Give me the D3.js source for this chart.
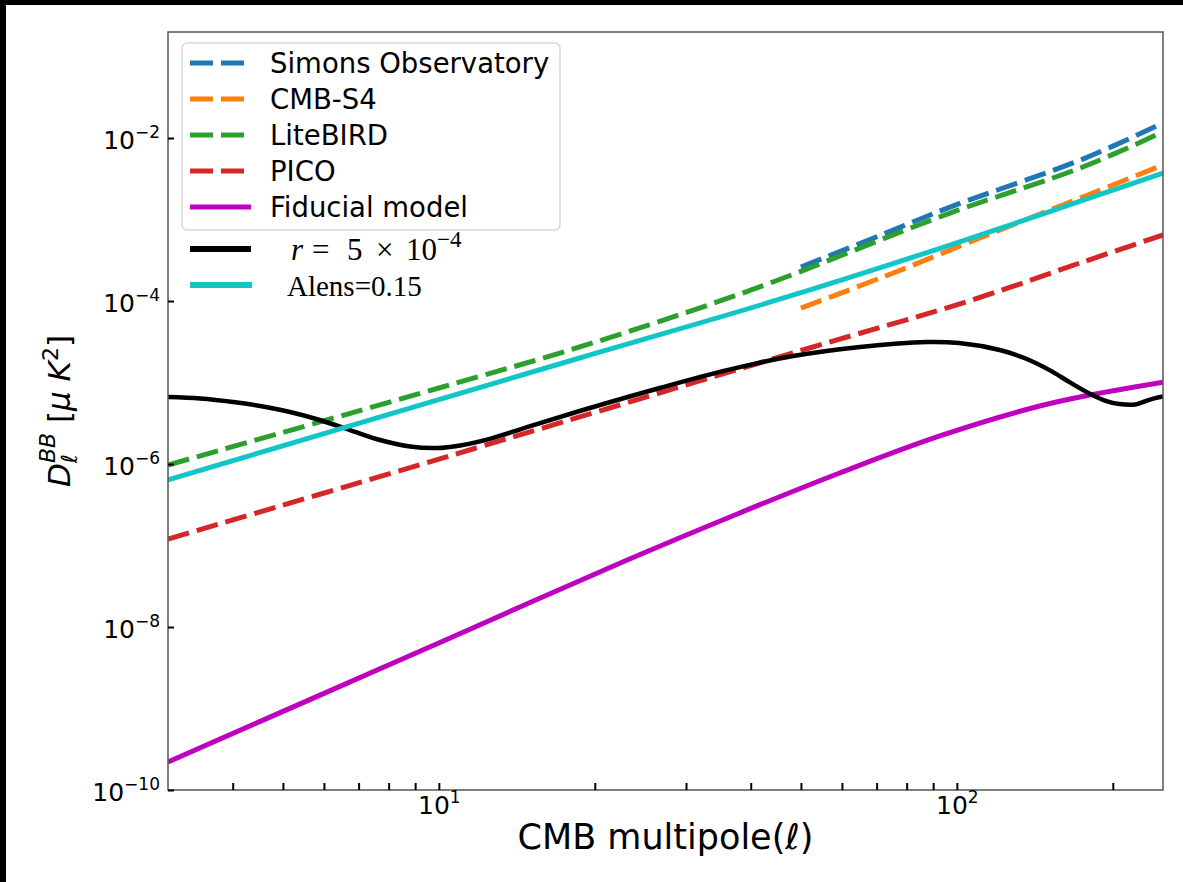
<!DOCTYPE html>
<html>
<head>
<meta charset="utf-8">
<script src="https://cdn.jsdelivr.net/npm/d3@7"></script>
<style>
  body { margin: 0; background: #fff; }
  svg { display: block; }
  text { font-family: "DejaVu Sans", sans-serif; fill: #000; }
  .serif { font-family: "Liberation Serif", serif; }
</style>
</head>
<body>
<svg id="chart" width="1183" height="882"></svg>
<script>
// multipoles (ell) and D_ell^BB values [uK^2]
const ellSO = [50, 72, 97, 175, 250];
const soBB = [2.61e-4, 6.6e-4, 1.42e-3, 5.52e-3, 1.53e-2];

const ellS4 = [50, 72, 112, 175, 250];
const s4BB = [8.2e-5, 1.97e-4, 6.1e-4, 1.89e-3, 4.67e-3];

const ellLB = [3, 10, 18.7, 40, 97, 175, 250];
const litebirdBB = [9.73e-7, 8.57e-6, 2.73e-5, 1.36e-4, 1.2e-3, 4.41e-3, 1.19e-2];

const ellPICO = [3, 10, 18.7, 50, 107, 175, 250];
const picoBB = [1.2e-7, 1.15e-6, 3.78e-6, 2.47e-5, 1.03e-4, 3.01e-4, 6.46e-4];

const ellFid = [3, 6.08, 10, 23.1, 38.1, 59.4, 92.7, 144.5, 180.6, 250];
const fiducialBB = [2.21e-10, 1.59e-9, 6.37e-9, 6.64e-8, 2.51e-7, 7.76e-7, 2.21e-6, 5.15e-6, 7.03e-6, 1.01e-5];

const ellR = [3, 3.46, 4.01, 4.52, 5.16, 5.89, 6.74, 7.7, 8.8, 9.92, 11, 12.7, 14.8, 18.7, 26.7, 36, 48.3, 65, 87.6, 101, 121, 135, 151, 165, 181, 193, 206, 221, 236, 250];
const rBB = [6.64e-6, 6.37e-6, 5.77e-6, 5.15e-6, 4.35e-6, 3.47e-6, 2.61e-6, 1.97e-6, 1.64e-6, 1.57e-6, 1.69e-6, 2.08e-6, 2.84e-6, 4.47e-6, 8.57e-6, 1.42e-5, 2.11e-5, 2.73e-5, 3.14e-5, 3.05e-5, 2.51e-5, 2.0e-5, 1.42e-5, 1.01e-5, 7.23e-6, 6.01e-6, 5.44e-6, 5.37e-6, 6.18e-6, 6.73e-6];

const ellLens = [3, 18.7, 45, 97, 250];
const alensBB = [6.37e-7, 2.0e-5, 1.03e-4, 4.86e-4, 3.72e-3];

const xMinor = [4, 5, 6, 7, 8, 9, 10, 20, 30, 40, 50, 60, 70, 80, 90, 100, 200];
const xLabelled = [10, 100];
const yTicks = [1e-10, 1e-8, 1e-6, 1e-4, 1e-2];

const svg = d3.select("#chart");
const plotLeft = 168, plotRight = 1163, plotTop = 32, plotBottom = 790;

const x = d3.scaleLog().domain([3, 250]).range([plotLeft, plotRight]);
const y = d3.scaleLog().domain([1e-10, 0.2]).range([plotBottom, plotTop]);

// black strips at the image border
svg.append("rect").attr("x", 0).attr("y", 0).attr("width", 1183).attr("height", 5).attr("fill", "#000");
svg.append("rect").attr("x", 0).attr("y", 0).attr("width", 6).attr("height", 882).attr("fill", "#000");

const series = [
    {ell: ellSO, val: soBB, color: "#1f77b4", dash: "22,8", width: 5},
    {ell: ellS4, val: s4BB, color: "#ff7f0e", dash: "22,8", width: 5},
    {ell: ellLB, val: litebirdBB, color: "#2ca02c", dash: "22,8", width: 5},
    {ell: ellPICO, val: picoBB, color: "#d62728", dash: "22,8", width: 5},
    {ell: ellFid, val: fiducialBB, color: "#bf00bf", dash: null, width: 5},
    {ell: ellR, val: rBB, color: "#000000", dash: null, width: 4.5},
    {ell: ellLens, val: alensBB, color: "#12c6c8", dash: null, width: 5}
];

const line = d3.line()
    .x(d => x(d[0]))
    .y(d => y(d[1]))
    .curve(d3.curveCatmullRom.alpha(0.5));

svg.append("defs").append("clipPath").attr("id", "clip")
    .append("rect").attr("x", plotLeft).attr("y", plotTop)
    .attr("width", plotRight - plotLeft).attr("height", plotBottom - plotTop);

const plot = svg.append("g").attr("clip-path", "url(#clip)");
series.forEach(s => {
    plot.append("path")
        .datum(s.ell.map((e, i) => [e, s.val[i]]))
        .attr("d", line)
        .attr("fill", "none")
        .attr("stroke", s.color)
        .attr("stroke-width", s.width)
        .attr("stroke-dasharray", s.dash);
});

// frame
svg.append("rect")
    .attr("x", plotLeft).attr("y", plotTop)
    .attr("width", plotRight - plotLeft).attr("height", plotBottom - plotTop)
    .attr("fill", "none").attr("stroke", "#555").attr("stroke-width", 1.5);

// x axis, ticks pointing in
const xAxis = svg.append("g")
    .attr("transform", `translate(0,${plotBottom})`)
    .call(d3.axisBottom(x).tickValues(xMinor).tickSize(-7).tickFormat(""));
xAxis.select(".domain").remove();
xAxis.selectAll(".tick line").attr("stroke", "#000").attr("stroke-width", 2);
xAxis.selectAll(".tick").filter(d => xLabelled.includes(d))
    .append("text")
    .attr("y", 24).attr("text-anchor", "middle").style("font-size", "25px")
    .each(function(d) {
        const t = d3.select(this);
        t.append("tspan").text("10");
        t.append("tspan").attr("dy", -11).style("font-size", "17px").text(Math.round(Math.log10(d)));
    });

// y axis
const yAxis = svg.append("g")
    .attr("transform", `translate(${plotLeft},0)`)
    .call(d3.axisLeft(y).tickValues(yTicks).tickSize(-6).tickFormat(""));
yAxis.select(".domain").remove();
yAxis.selectAll(".tick line").attr("stroke", "#000").attr("stroke-width", 2);
yAxis.selectAll(".tick")
    .append("text")
    .attr("x", -8).attr("y", 10).attr("text-anchor", "end").style("font-size", "25px")
    .each(function(d) {
        const t = d3.select(this);
        t.append("tspan").text("10");
        t.append("tspan").attr("dy", -11).style("font-size", "17px").text("\u2212" + Math.round(-Math.log10(d)));
    });

// axis titles
const xt = svg.append("text")
    .attr("x", (plotLeft + plotRight) / 2).attr("y", 849)
    .attr("text-anchor", "middle").style("font-size", "35px");
xt.append("tspan").text("CMB multipole(");
xt.append("tspan").style("font-style", "italic").text("\u2113");
xt.append("tspan").text(")");

const yt = svg.append("text")
    .attr("transform", `translate(70,${(plotTop + plotBottom) / 2}) rotate(-90)`)
    .attr("text-anchor", "middle").style("font-size", "31px");
yt.append("tspan").style("font-style", "italic").text("D");
yt.append("tspan").attr("dy", 7).style("font-size", "22px").style("font-style", "italic").text("\u2113");
yt.append("tspan").attr("dx", -9).attr("dy", -22).style("font-size", "22px").style("font-style", "italic").text("BB");
yt.append("tspan").attr("dy", 15).text(" [");
yt.append("tspan").style("font-style", "italic").text("\u03bc K");
yt.append("tspan").attr("dy", -12).style("font-size", "22px").text("2");
yt.append("tspan").attr("dy", 12).text("]");

// legend
const legendNames = ["Simons Observatory", "CMB-S4", "LiteBIRD", "PICO", "Fiducial model"];
const legend = svg.append("g");
legend.append("rect")
    .attr("x", 182).attr("y", 43).attr("width", 378).attr("height", 187)
    .attr("rx", 5).attr("fill", "#fff").attr("fill-opacity", 0.8)
    .attr("stroke", "#d9d9d9").attr("stroke-width", 1.5);
legendNames.forEach((name, i) => {
    const s = series[i];
    const cy = 63 + i * 36;
    legend.append("line")
        .attr("x1", 190).attr("x2", 251).attr("y1", cy).attr("y2", cy)
        .attr("stroke", s.color).attr("stroke-width", 5)
        .attr("stroke-dasharray", s.dash ? "23,8" : null);
    legend.append("text")
        .attr("x", 270).attr("y", cy + 10).style("font-size", "27.5px").text(name);
});

// extra entries drawn below the legend box
svg.append("line").attr("x1", 190).attr("x2", 251).attr("y1", 249).attr("y2", 249)
    .attr("stroke", series[5].color).attr("stroke-width", 6);
const rt = svg.append("text").attr("class", "serif")
    .attr("y", 260).style("font-size", "31px");
rt.append("tspan").attr("x", 291).style("font-style", "italic").text("r");
rt.append("tspan").attr("x", 312).text("=");
rt.append("tspan").attr("x", 347).text("5");
rt.append("tspan").attr("x", 376).text("\u00d7");
rt.append("tspan").attr("x", 406).text("10");
rt.append("tspan").attr("dy", -13).style("font-size", "23px").text("\u22124");

svg.append("line").attr("x1", 190).attr("x2", 252).attr("y1", 285).attr("y2", 285)
    .attr("stroke", series[6].color).attr("stroke-width", 6);
svg.append("text").attr("class", "serif")
    .attr("x", 287).attr("y", 296).style("font-size", "29px").text("Alens=0.15");
</script>
</body>
</html>
